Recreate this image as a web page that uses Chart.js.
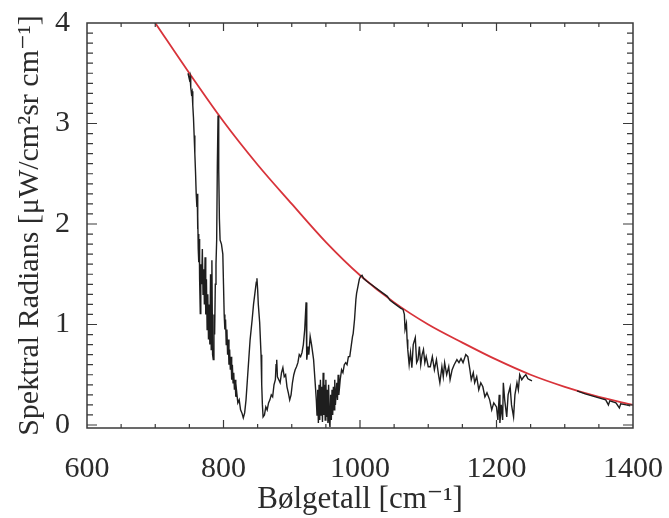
<!DOCTYPE html>
<html>
<head>
<meta charset="utf-8">
<title>Spektral Radians</title>
<script src="https://cdn.jsdelivr.net/npm/chart.js@4"></script>
<style>
  html, body { margin: 0; padding: 0; background: #fff; }
  #wrap { width: 669px; height: 518px; }
</style>
</head>
<body>
<div id="wrap"><canvas id="chartSpektrum" width="669" height="518"></canvas></div>
<script>
// Målt spektrum (bølgetall, radians)
const specX = [
  748, 750, 751, 752, 753, 754, 755, 756, 757, 758, 759, 760, 761, 761.5, 762, 762.5, 763, 763.5, 764, 764.5,
  765, 766, 766.5, 767, 768, 769, 770, 771, 772, 773, 774, 775, 776, 777, 778, 779, 780, 781, 782, 783,
  784, 785, 786, 787, 788, 789, 790, 791, 792, 793, 794, 795, 797, 799, 800, 801, 802, 803, 804, 805,
  806, 807, 808, 809, 810, 811, 812, 813, 814, 815, 816, 817, 818, 819, 821, 823, 825, 827, 829, 831,
  833, 835, 837, 839, 842, 844, 846, 848, 849, 850, 851, 853, 855, 856, 857, 858, 860, 862, 864, 866,
  868, 870, 872, 874, 876, 877, 878, 879, 881, 883, 885, 887, 889, 891, 893, 895, 897, 899, 901, 903,
  905, 907, 909, 911, 913, 915, 917, 919, 921, 922, 924, 925, 927, 929, 932, 934, 936, 937, 938, 939,
  940, 941, 942, 943, 944, 945, 946, 947, 948, 949, 950, 951, 952, 953, 954, 955, 956, 957, 958, 959,
  960, 961, 962, 963, 964, 966, 967, 968, 969, 971, 973, 975, 977, 979, 981, 983, 985, 987, 989, 990,
  992, 994, 995, 997, 999, 1001, 1003, 1005, 1010, 1020, 1030, 1040, 1044, 1050, 1060, 1063, 1065, 1066, 1068, 1069,
  1070, 1072, 1074, 1076, 1078, 1081, 1083, 1085, 1087, 1089, 1091, 1093, 1095, 1097, 1100, 1103, 1106, 1109, 1112, 1115,
  1117, 1120, 1122, 1124, 1127, 1130, 1132, 1135, 1138, 1142, 1145, 1148, 1151, 1155, 1158, 1161, 1163, 1166, 1168, 1171,
  1174, 1177, 1180, 1183, 1186, 1190, 1193, 1196, 1200, 1202, 1204, 1205, 1207, 1209, 1210, 1212, 1215, 1217, 1220, 1222,
  1225, 1227, 1230, 1232, 1234, 1237, 1240, 1243, 1246, 1249, 1252, 1285, 1318, 1330, 1340, 1350, 1360, 1364, 1366, 1375,
  1380, 1382, 1390, 1396
];
const specY = [
  3.50, 3.44, 3.47, 3.36, 3.30, 3.32, 3.18, 3.06, 2.88, 2.70, 2.52, 2.30, 2.17, 2.30, 1.95, 2.08, 1.75, 1.90, 1.62, 1.85,
  1.45, 1.11, 1.55, 1.60, 1.40, 1.75, 1.30, 1.55, 1.20, 1.67, 1.10, 1.45, 0.95, 1.30, 0.85, 1.20, 0.80, 1.50, 0.75, 1.64,
  0.70, 0.65, 1.10, 0.90, 1.40, 1.60, 1.84, 2.60, 3.08, 2.55, 2.05, 1.84, 1.80, 1.70, 1.40, 1.10, 0.95, 1.05, 0.80, 0.95,
  0.70, 0.85, 0.60, 0.75, 0.55, 0.68, 0.45, 0.60, 0.42, 0.52, 0.35, 0.45, 0.28, 0.35, 0.22, 0.25, 0.15, 0.12, 0.07, 0.12,
  0.25, 0.45, 0.65, 0.85, 1.05, 1.20, 1.31, 1.42, 1.46, 1.35, 1.20, 1.02, 0.70, 0.40, 0.20, 0.08, 0.10, 0.18, 0.15, 0.22,
  0.25, 0.30, 0.28, 0.40, 0.45, 0.60, 0.65, 0.48, 0.45, 0.42, 0.52, 0.57, 0.48, 0.50, 0.38, 0.32, 0.25, 0.30, 0.42, 0.50,
  0.55, 0.58, 0.62, 0.70, 0.68, 0.72, 0.80, 0.95, 1.22, 0.65, 0.78, 0.70, 0.88, 0.80, 0.65, 0.45, 0.25, 0.10, 0.35, 0.02,
  0.40, 0.05, 0.45, 0.10, 0.38, 0.03, 0.52, 0.10, 0.40, 0.05, 0.45, 0.08, 0.35, 0.02, 0.40, 0.05, -0.02, 0.30, 0.05, 0.35,
  0.10, 0.38, 0.15, 0.45, 0.20, 0.42, 0.25, 0.50, 0.30, 0.45, 0.55, 0.52, 0.60, 0.62, 0.60, 0.68, 0.68, 0.78, 0.88, 0.91,
  1.05, 1.25, 1.31, 1.38, 1.45, 1.48, 1.49, 1.46, 1.43, 1.38, 1.33, 1.28, 1.24, 1.21, 1.16, 1.15, 1.10, 0.95, 1.01, 0.85,
  0.75, 0.60, 0.72, 0.57, 0.80, 0.87, 0.62, 0.65, 0.78, 0.60, 0.70, 0.75, 0.62, 0.68, 0.58, 0.58, 0.68, 0.55, 0.65, 0.50,
  0.42, 0.58, 0.48, 0.62, 0.50, 0.58, 0.45, 0.55, 0.60, 0.65, 0.62, 0.66, 0.62, 0.70, 0.68, 0.55, 0.45, 0.52, 0.42, 0.48,
  0.35, 0.42, 0.38, 0.28, 0.32, 0.25, 0.15, 0.22, 0.18, 0.05, 0.30, 0.02, 0.20, 0.05, 0.42, 0.25, 0.08, 0.30, 0.38, 0.20,
  0.08, 0.30, 0.42, 0.35, 0.50, 0.45, 0.48, 0.50, 0.46, 0.45, 0.44, null, 0.34, 0.31, 0.29, 0.27, 0.25, 0.20, 0.24, 0.22,
  0.17, 0.21, 0.20, 0.19
];

// Rød kurve (øvre referansekurve)
const fitX = [700, 750, 800, 850, 900, 950, 1000, 1050, 1100, 1150, 1200, 1250, 1300, 1350, 1400];
const fitY = [4.00, 3.50, 3.02, 2.59, 2.20, 1.82, 1.49, 1.22, 1.00, 0.82, 0.65, 0.50, 0.38, 0.28, 0.20];

// Akser
const xMajorTicks = [600, 800, 1000, 1200, 1400];
const yMajorTicks = [0, 1, 2, 3, 4];
const xTitle = 'Bølgetall [cm⁻¹]';
const yTitle = 'Spektral Radians [μW/cm²sr cm⁻¹]';

(function() {
  'use strict';

  const FONT = '"Liberation Serif", "DejaVu Serif", "Times New Roman", serif';
  const INK = '#2b2b2b';

  // Rammen og innoverpekende tikkmerker, som i originalen
  const framePlugin = {
    id: 'frameTicks',
    afterDraw(chart) {
      const { ctx, chartArea: a } = chart;
      const xs = chart.scales.x;
      const ys = chart.scales.y;
      ctx.save();
      ctx.strokeStyle = '#3a3a3a';
      ctx.lineWidth = 1.5;
      ctx.strokeRect(a.left, a.top, a.right - a.left, a.bottom - a.top);
      ctx.lineWidth = 1.2;
      ctx.beginPath();
      for (let v = 650; v < 1400; v += 50) {
        const px = xs.getPixelForValue(v);
        const len = xMajorTicks.includes(v) ? 8 : 4;
        ctx.moveTo(px, a.bottom); ctx.lineTo(px, a.bottom - len);
        ctx.moveTo(px, a.top); ctx.lineTo(px, a.top + len);
      }
      for (let i = 0; i < 40; i++) {
        const py = ys.getPixelForValue(i / 10);
        const len = i % 10 === 0 ? 10 : 6;
        ctx.moveTo(a.left, py); ctx.lineTo(a.left + len, py);
        ctx.moveTo(a.right, py); ctx.lineTo(a.right - len, py);
      }
      ctx.stroke();
      ctx.restore();
    }
  };

  function init() {
    const canvas = document.getElementById('chartSpektrum');
    const spectrum = specX.map((x, i) => ({ x: x, y: specY[i] }));
    const curve = fitX.map((x, i) => ({ x: x, y: fitY[i] }));

    new Chart(canvas.getContext('2d'), {
      type: 'line',
      data: {
        datasets: [
          {
            label: 'Spektrum',
            data: spectrum,
            borderColor: '#1e1e1e',
            borderWidth: 1.4,
            pointRadius: 0,
            spanGaps: false,
            tension: 0,
            order: 1
          },
          {
            label: 'Kurve',
            data: curve,
            borderColor: '#d8333a',
            borderWidth: 1.8,
            pointRadius: 0,
            cubicInterpolationMode: 'monotone',
            order: 2
          }
        ]
      },
      options: {
        responsive: false,
        animation: false,
        layout: { padding: { left: 0, right: 36, top: 23, bottom: 0 } },
        plugins: {
          legend: { display: false },
          tooltip: { enabled: false }
        },
        scales: {
          x: {
            type: 'linear',
            min: 600,
            max: 1400,
            grid: { display: false },
            border: { display: false },
            afterBuildTicks: (scale) => { scale.ticks = xMajorTicks.map(v => ({ value: v })); },
            afterFit: (scale) => {
              scale.height = 90;
              scale.paddingLeft = 0;
              scale.paddingRight = 0;
            },
            ticks: {
              color: INK,
              padding: 15,
              maxRotation: 0,
              font: { family: FONT, size: 30 },
              callback: (v) => String(v)
            },
            title: {
              display: true,
              text: xTitle,
              color: INK,
              padding: { top: 0, bottom: 0 },
              font: { family: FONT, size: 31 }
            }
          },
          y: {
            type: 'linear',
            min: -0.03,
            max: 4.0,
            grid: { display: false },
            border: { display: false },
            afterBuildTicks: (scale) => { scale.ticks = yMajorTicks.map(v => ({ value: v })); },
            afterFit: (scale) => {
              scale.width = 87;
              scale.paddingTop = 0;
              scale.paddingBottom = 0;
            },
            ticks: {
              color: INK,
              padding: 9,
              font: { family: FONT, size: 30 },
              callback: (v) => String(v)
            },
            title: {
              display: true,
              text: yTitle,
              color: INK,
              padding: { top: 12, bottom: 0 },
              font: { family: FONT, size: 30 }
            }
          }
        }
      },
      plugins: [framePlugin]
    });
  }

  if (document.readyState === 'loading') {
    document.addEventListener('DOMContentLoaded', init);
  } else {
    init();
  }
})();
</script>
</body>
</html>
